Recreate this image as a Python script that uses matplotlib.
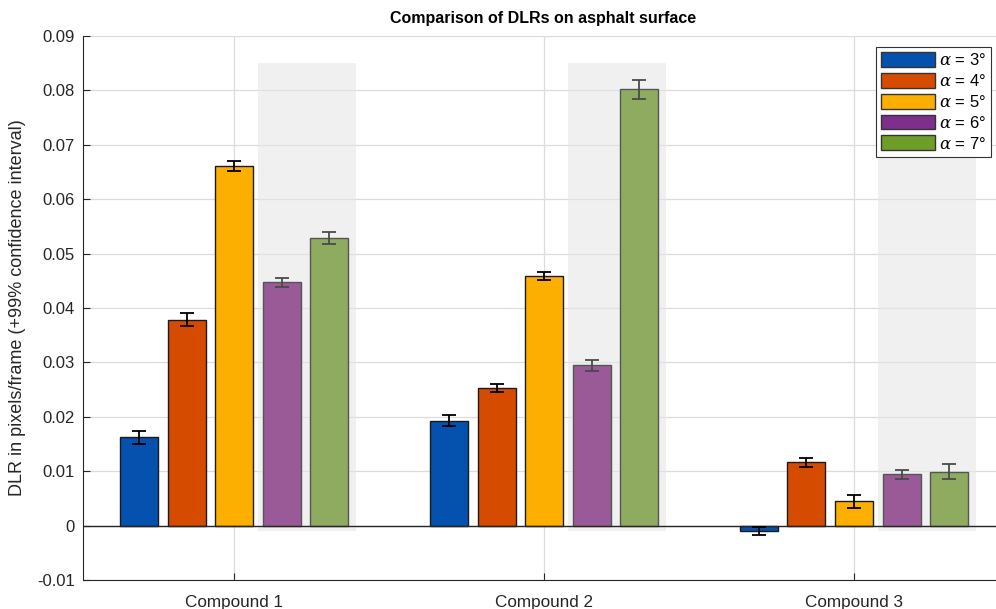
import numpy as np
import matplotlib.pyplot as plt
from matplotlib.patches import Rectangle

plt.rcParams['font.family'] = ['Liberation Sans', 'DejaVu Sans']
plt.rcParams['mathtext.fontset'] = 'dejavuserif'

# DLR per compound, one list per camera angle
compounds = ["Compound 1", "Compound 2", "Compound 3"]
angles = [3, 4, 5, 6, 7]
dlr = [
    [0.0162, 0.0193, -0.0010],   # alpha = 3
    [0.0378, 0.0253, 0.0116],    # alpha = 4
    [0.0661, 0.0459, 0.0045],    # alpha = 5
    [0.0447, 0.0295, 0.0094],    # alpha = 6
    [0.0529, 0.0802, 0.0099],    # alpha = 7
]
ci99 = [
    [0.0012, 0.0010, 0.0008],
    [0.0012, 0.0008, 0.0009],
    [0.0009, 0.0008, 0.0012],
    [0.0009, 0.0010, 0.0008],
    [0.0011, 0.0017, 0.0014],
]
# grey boxes behind the two steepest angles (top of each box)
shade_top = [0.085, 0.085, 0.0676]
shade_bottom = -0.001

colors = ['#0451AE', '#D54C00', '#FDAF00', '#7E2E8B', '#6E9E28']
faded = [None, None, None, '#9A5A97', '#8FAB5F']

fig = plt.figure(figsize=(9.96, 6.09), dpi=100)
ax = fig.add_axes([83/996, 29/609, 926/996, 544/609])

x = np.arange(1, len(compounds) + 1)
step = 0.1535
width = 0.1226

# shaded regions
for i, xc in enumerate(x):
    ax.add_patch(Rectangle((xc + 0.076, shade_bottom), 0.316,
                           shade_top[i] - shade_bottom,
                           facecolor='#E6E6E6', alpha=0.6,
                           edgecolor='none', zorder=1))

handles = []
for k in range(len(angles)):
    pos = x + (k - 2) * step
    fc = colors[k] if faded[k] is None else faded[k]
    ec = '#1a1a1a' if faded[k] is None else '#555555'
    errc = 'black' if faded[k] is None else '#4a4a4a'
    ax.bar(pos, dlr[k], width, color=fc, edgecolor=ec, linewidth=1.0, zorder=3)
    ax.errorbar(pos, dlr[k], yerr=ci99[k], fmt='none', ecolor=errc,
                elinewidth=1.3, capsize=5, capthick=1.3, zorder=4)
    handles.append(plt.Rectangle((0, 0), 1, 1, facecolor=colors[k],
                                 edgecolor='#333333', linewidth=1.0))

ax.axhline(0, color='#262626', linewidth=1.0, zorder=3.5)

ax.set_xlim(0.512, 3.5)
ax.set_ylim(-0.01, 0.09)
ax.set_xticks(x)
ax.set_xticklabels(compounds)
yt = np.round(np.arange(-0.01, 0.0901, 0.01), 2)
ax.set_yticks(yt)
ax.set_yticklabels(['0' if v == 0 else f'{v:.2f}' for v in yt])
ax.tick_params(direction='in', length=5, width=0.8, colors='#262626',
               labelsize=12, pad=6)
ax.tick_params(axis='x', pad=11, labelsize=12.3)
for lbl in ax.get_xticklabels() + ax.get_yticklabels():
    lbl.set_color('#262626')

ax.grid(True, color='#DCDCDC', linewidth=0.9, zorder=0)
ax.set_axisbelow(True)
for s in ['top', 'right']:
    ax.spines[s].set_visible(False)
for s in ['left', 'bottom']:
    ax.spines[s].set_color('#262626')
    ax.spines[s].set_linewidth(0.8)

ax.set_ylabel('DLR in pixels/frame (+99% confidence interval)', fontsize=13,
              color='#262626', labelpad=8)
fig.text(543/996, 1 - 18/609, 'Comparison of DLRs on asphalt surface',
         ha='center', va='center', fontsize=11.5, fontweight='bold')

leg = ax.legend(handles, [rf'$\alpha$ = {a}°' for a in angles],
                loc='upper right', bbox_to_anchor=(991/996, 1 - 47/609),
                bbox_transform=fig.transFigure, fontsize=12,
                handlelength=3.2, handleheight=1.0, handletextpad=0.25,
                labelspacing=0.28, borderpad=0.3, borderaxespad=0,
                fancybox=False, framealpha=1, edgecolor='#333333')
leg.get_frame().set_linewidth(0.8)
leg.set_zorder(10)

fig.savefig('out.png', dpi=100)
